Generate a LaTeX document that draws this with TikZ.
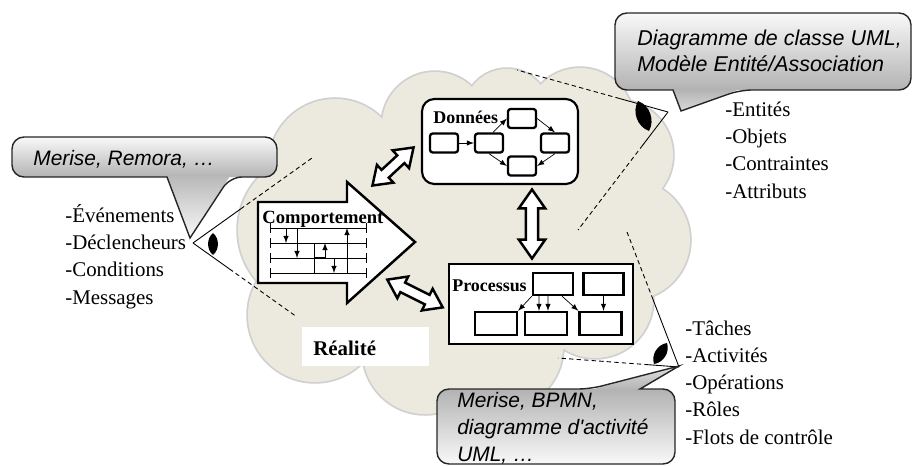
\documentclass[tikz,border=0pt]{standalone}
\usepackage{fontspec}
\setmainfont{Liberation Serif}
\newfontfamily\bullefont{Liberation Sans}
\usetikzlibrary{shapes.arrows,calc}

\definecolor{nuagefond}{RGB}{236,233,223}
\definecolor{nuagebord}{RGB}{208,208,208}

\tikzset{
	lobe/.style={draw=nuagebord, line width=2pt},
	cadre/.style={draw, line width=1.2pt, inner sep=0pt, fill=white},
	petitbloc/.style={draw, line width=1.3pt, rounded corners=1.5pt, inner sep=0pt, fill=white},
	fleche/.style={arrows={-latex}, line width=0.4pt},
	dblfleche/.style={double arrow, draw, fill=white, line width=1.4pt, inner sep=2.3pt, minimum width=0pt,
		double arrow head extend=3.9pt, double arrow tip angle=70, double arrow head indent=0pt},
	visee/.style={line width=0.5pt},
	viseetiret/.style={visee, dash pattern=on 2.5pt off 1.8pt},
	bullebord/.style={draw=black!85, line width=0.8pt},
	bulletexte/.style={font=\bullefont\itshape\fontsize{11.9pt}{15.3pt}\selectfont, align=left, inner sep=0pt},
	liste/.style={font=\fontsize{11.9pt}{15.4pt}\selectfont, align=left, inner sep=0pt},
	etiquette/.style={font=\bfseries\fontsize{10.2pt}{12pt}\selectfont, inner sep=0pt}
}

\begin{document}
\begin{tikzpicture}[x=0.02cm, y=-0.02cm]

	\useasboundingbox (0,0) rectangle (913,466);

	% nuage
	\foreach \cx/\cy/\r in {335/165/66, 435/125/53, 507/112/43, 580/122/54, 618/155/55, 630/240/60,
		595/300/58, 500/347/63, 425/352/62, 315/315/67, 315/230/77}
		\draw [lobe] (\cx,\cy) circle (\r);
	\foreach \cx/\cy/\r in {335/165/66, 435/125/53, 507/112/43, 580/122/54, 618/155/55, 630/240/60,
		595/300/58, 500/347/63, 425/352/62, 315/315/67, 315/230/77}
		\fill [nuagefond] (\cx,\cy) circle (\r);
	\fill [nuagefond] (470,235) ellipse (190 and 125);

	% points de vue
	\coordinate (vueG) at (193,243);
	\coordinate (vueGh) at (312,158);
	\coordinate (vueGb) at (297,317);
	\coordinate (vueD) at (668,112);
	\coordinate (vueDh) at (517,70);
	\coordinate (vueDb) at (578,230);
	\coordinate (vueB) at (679,367);
	\coordinate (vueBh) at (627,232);
	\coordinate (vueBb) at (558,358);
	\draw [visee] (vueG) -- ($(vueG)!0.4!(vueGh)$);
	\draw [viseetiret] ($(vueG)!0.4!(vueGh)$) -- (vueGh);
	\draw [visee] (vueG) -- ($(vueG)!0.35!(vueGb)$);
	\draw [viseetiret] ($(vueG)!0.35!(vueGb)$) -- (vueGb);
	\draw [visee] (vueD) -- ($(vueD)!0.32!(vueDh)$);
	\draw [viseetiret] ($(vueD)!0.32!(vueDh)$) -- (vueDh);
	\draw [visee] (vueD) -- ($(vueD)!0.28!(vueDb)$);
	\draw [viseetiret] ($(vueD)!0.28!(vueDb)$) -- (vueDb);
	\draw [visee] (vueB) -- ($(vueB)!0.5!(vueBh)$);
	\draw [viseetiret] ($(vueB)!0.5!(vueBh)$) -- (vueBh);
	\draw [visee] (vueB) -- ($(vueB)!0.25!(vueBb)$);
	\draw [viseetiret] ($(vueB)!0.25!(vueBb)$) -- (vueBb);

	\fill [white] (302,327) rectangle (429,366);
	\node [etiquette, font=\bfseries\fontsize{11.9pt}{14pt}\selectfont, anchor=base west] (realite) at (313,355) {Réalité};

	% donnees
	\node [cadre, rounded corners=7pt, minimum width=3.12cm, minimum height=1.7cm] (donnees) at (500,141.5) {};
	\node [etiquette, anchor=base west] (titreD) at (433,124) {Données};
	\node [petitbloc, minimum width=0.56cm, minimum height=0.38cm] (d1) at (444,143) {};
	\node [petitbloc, minimum width=0.56cm, minimum height=0.38cm] (d2) at (489,143) {};
	\node [petitbloc, minimum width=0.56cm, minimum height=0.38cm] (d3) at (522,118.5) {};
	\node [petitbloc, minimum width=0.56cm, minimum height=0.38cm] (d4) at (555,143) {};
	\node [petitbloc, minimum width=0.56cm, minimum height=0.38cm] (d5) at (522,166) {};
	\draw [fleche] (d1) -- (d2);
	\draw [fleche] ([xshift=0.08cm]d2.north) -- (d3.west);
	\draw [fleche] (d3.east) -- (d4.north);
	\draw [fleche] (d2.south) -- (d5.west);
	\draw [fleche] (d4.south) -- (d5.east);

	% processus
	\node [cadre, minimum width=3.68cm, minimum height=1.6cm] (processus) at (541,304) {};
	\node [etiquette, anchor=base west] (titreP) at (452,291) {Processus};
	\node [petitbloc, rounded corners=0pt, minimum width=0.8cm, minimum height=0.44cm] (p1) at (553,284) {};
	\node [petitbloc, rounded corners=0pt, minimum width=0.8cm, minimum height=0.44cm] (p2) at (603.5,284) {};
	\node [petitbloc, rounded corners=0pt, minimum width=0.84cm, minimum height=0.46cm] (p3) at (496,323.5) {};
	\node [petitbloc, rounded corners=0pt, minimum width=0.84cm, minimum height=0.46cm] (p4) at (546,323.5) {};
	\node [petitbloc, rounded corners=0pt, minimum width=0.84cm, minimum height=0.46cm] (p5) at (600.5,323.5) {};
	\draw [fleche] (p1.south west) -- (p3.north east);
	\draw [fleche] ([xshift=-0.28cm]p1.south) -- ([xshift=-0.14cm]p4.north);
	\draw [fleche] ([xshift=-0.1cm]p1.south) -- ([xshift=0.04cm]p4.north);
	\draw [fleche] ([xshift=0.18cm]p1.south) -- (p5.north west);
	\draw [fleche] (p2.south) -- (p2.south |- p5.north);

	% comportement
	\draw [line width=1.4pt, fill=white] (258,202) -- (347,202) -- (347,182) -- (415,242) -- (347,303)
		-- (347,283) -- (258,283) -- cycle;
	\node [etiquette, font=\bfseries\fontsize{10.6pt}{12pt}\selectfont, anchor=base west] (comportement) at (262,223) {Comportement};
	\foreach \y in {228,243,258,273}
		\draw [|-|, line width=0.4pt] (270,\y) -- (367,\y);
	\draw [fleche] (286,228) -- (286,243);
	\draw [fleche] (297,228) -- (297,258);
	\draw [line width=0.4pt] (314,243) -- (314,273);
	\draw [fleche] (314,257) -- (325,257) -- (325,243);
	\draw [fleche] (334,258) -- (334,273);
	\draw [fleche] (347,273) -- (347,228);

	% liens
	\node [dblfleche, minimum height=1.12cm, rotate=42.8] (lienCD) at (393,166.5) {};
	\node [dblfleche, minimum height=1.38cm, rotate=90, inner sep=2.8pt, double arrow head extend=4pt] (lienDP) at (532,224) {};
	\node [dblfleche, minimum height=1.24cm, rotate=-26.6] (lienCP) at (415,293.5) {};

	% bulles
	\shade [top color=gray!5, bottom color=gray!60, rounded corners=6.8pt] (12,137) rectangle (277,177);
	\shade [top color=gray!55, bottom color=gray!5] (167,176) -- (190,238) -- (230,176) -- cycle;
	\draw [bullebord, rounded corners=6.8pt] (12,137) -- (277,137) -- (277,177) -- (230,177) [sharp corners]
		-- (190,238) -- (167,177) [rounded corners=6.8pt] -- (12,177) -- cycle;
	\node [bulletexte, anchor=base west] (bulleG) at (33,166) {Merise, Remora, …};

	\shade [top color=gray!5, bottom color=gray!60, rounded corners=6.8pt] (615,13) rectangle (911,90);
	\shade [top color=gray!60, bottom color=gray!30] (673,89) -- (681,111) -- (740,89) -- cycle;
	\draw [bullebord, rounded corners=6.8pt] (615,13) -- (911,13) -- (911,90) -- (740,90) [sharp corners]
		-- (681,111) -- (673,90) [rounded corners=6.8pt] -- (615,90) -- cycle;
	% base = derniere ligne
	\node [bulletexte, font=\bullefont\itshape\fontsize{12.2pt}{15.3pt}\selectfont, anchor=base west] (bulleD) at (637,72) {Diagramme de classe UML,\\Modèle Entité/Association};

	\shade [top color=gray!60, bottom color=gray!5, rounded corners=6.8pt] (437,389) rectangle (675,464);
	\shade [top color=gray!25, bottom color=gray!60] (590,390) -- (679,366) -- (640,390) -- cycle;
	\draw [bullebord, rounded corners=6.8pt] (437,389) -- (590,389) [sharp corners] -- (679,366) -- (640,389)
		[rounded corners=6.8pt] -- (675,389) -- (675,464) -- (437,464) -- cycle;
	\node [bulletexte, anchor=base west] (bulleB) at (457,461) {Merise, BPMN,\\diagramme d'activité\\UML, …};

	% yeux
	\fill (213,233) to [bend left=50] (213,255) to [bend left=50] (213,233);
	\fill (638,101) to [bend left=50] (649,131) to [bend left=50] (638,101);
	\fill (667,343) to [bend left=50] (654,364) to [bend left=50] (667,343);

	% listes
	\node [liste, anchor=base west] (listeG) at (65,304) {-Événements\\-Déclencheurs\\-Conditions\\-Messages};
	\node [liste, anchor=base west] (listeD) at (725,198) {-Entités\\-Objets\\-Contraintes\\-Attributs};
	\node [liste, anchor=base west] (listeB) at (685,444) {-Tâches\\-Activités\\-Opérations\\-Rôles\\-Flots de contrôle};

\end{tikzpicture}
\end{document}
